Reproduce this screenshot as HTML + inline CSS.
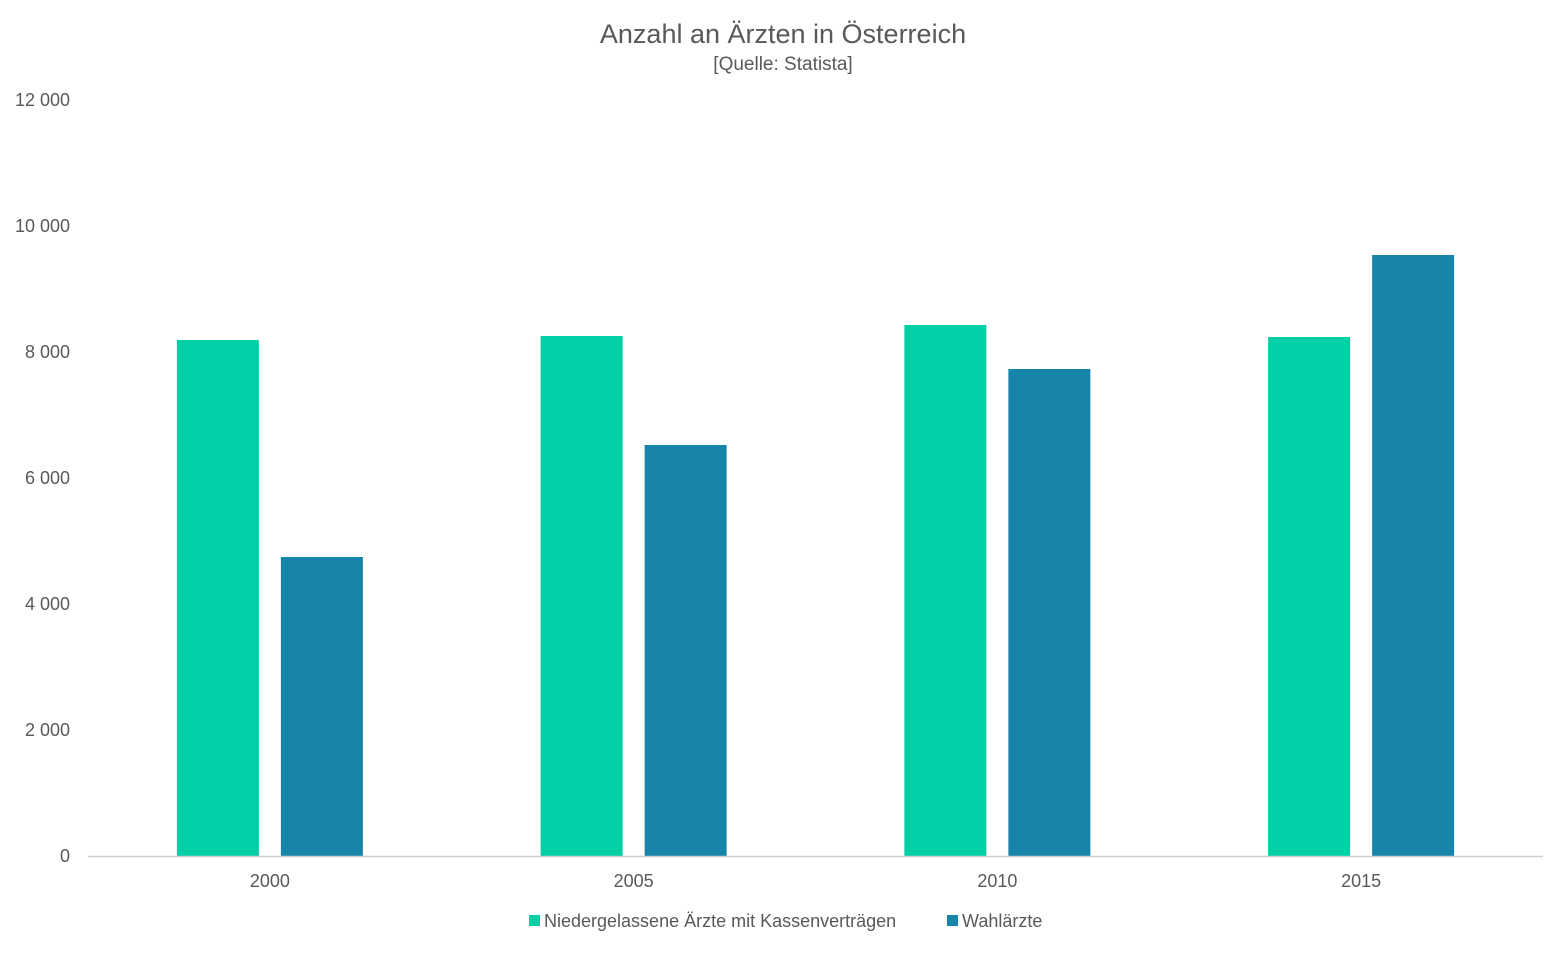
<!DOCTYPE html>
<html><head><meta charset="utf-8"><style>
body{margin:0;background:#fff;font-family:"Liberation Sans",sans-serif;}
</style></head><body>
<svg id="chart" width="1567" height="952" xmlns="http://www.w3.org/2000/svg" font-family="Liberation Sans, sans-serif">
<text x="783" y="43" text-anchor="middle" font-size="27" fill="#595959">Anzahl an Ärzten in Österreich</text>
<text x="783" y="70" text-anchor="middle" font-size="19" fill="#595959">[Quelle: Statista]</text>
<g id="yaxis"></g>
<g id="bars"></g>
<g id="xaxis"></g>
<g>
<rect x="529" y="915" width="11" height="11" fill="#03CFA6"/>
<text x="544" y="927" font-size="18" fill="#595959">Niedergelassene Ärzte mit Kassenverträgen</text>
<rect x="947" y="915" width="11" height="11" fill="#1784AA"/>
<text x="962" y="927" font-size="18" fill="#595959">Wahlärzte</text>
</g>
</svg>
<script>
const categories=["2000","2005","2010","2015"];
const seriesKassen=[8190,8254,8429,8238];
const seriesWahl=[4746,6524,7730,9540];
const yTicks=[0,2000,4000,6000,8000,10000,12000];
const yTickLabels=["0","2 000","4 000","6 000","8 000","10 000","12 000"];
const NS="http://www.w3.org/2000/svg";
const x0=88,x1=1543,y0=856,y1=100,yMax=12000;
const yScale=v=>y0-(v/yMax)*(y0-y1);
const band=(x1-x0)/categories.length;
const xCenter=i=>x0+band*(i+0.5);
function mk(tag,attrs,parent){const e=document.createElementNS(NS,tag);for(const k in attrs)e.setAttribute(k,attrs[k]);parent.appendChild(e);return e;}
const ya=document.getElementById('yaxis'),bg=document.getElementById('bars'),xa=document.getElementById('xaxis');
yTicks.forEach((t,i)=>{const e=mk('text',{x:70,y:yScale(t)+6,'text-anchor':'end','font-size':18,fill:'#595959'},ya);


e.textContent=yTickLabels[i];});
const bw=82,gap=22;
categories.forEach((c,i)=>{const cx=xCenter(i);
const r1=mk('rect',{x:cx-gap/2-bw,y:yScale(seriesKassen[i]),width:bw,height:y0-yScale(seriesKassen[i]),fill:'#03CFA6'},bg);


const r2=mk('rect',{x:cx+gap/2,y:yScale(seriesWahl[i]),width:bw,height:y0-yScale(seriesWahl[i]),fill:'#1784AA'},bg);


const t=mk('text',{x:cx,y:887,'text-anchor':'middle','font-size':18,fill:'#595959'},xa);


t.textContent=c;});
const ln=mk('line',{x1:x0,x2:x1,y1:y0+0.5,y2:y0+0.5,stroke:'#d0d0d0','stroke-width':1.5},xa);


</script>
</body></html>
